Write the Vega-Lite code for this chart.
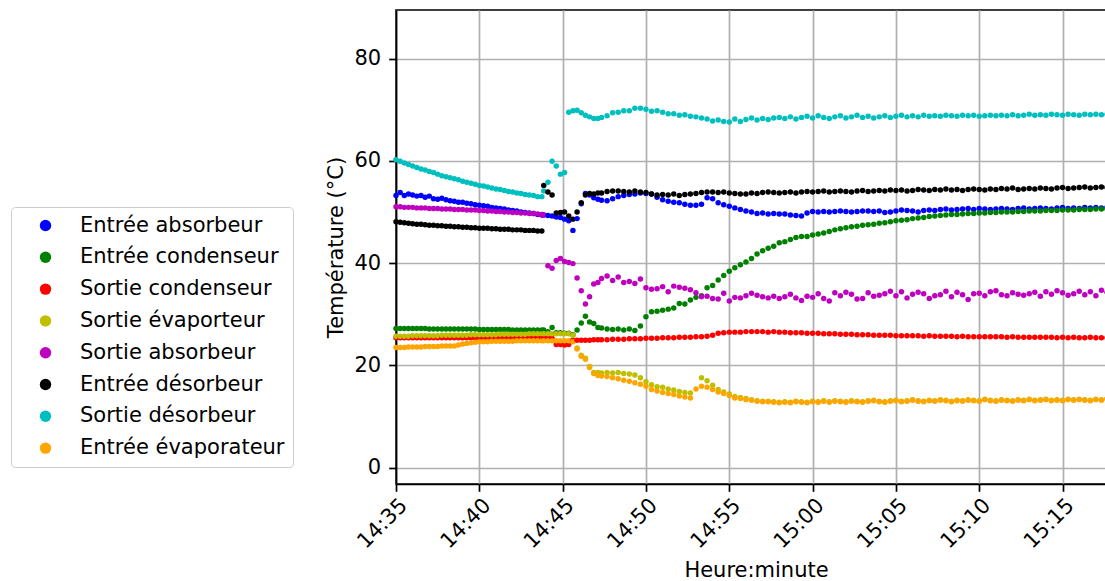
{
"$schema": "https://vega.github.io/schema/vega-lite/v6.json",
"width": 711, "height": 474,
"padding": {"left": 10, "top": 10, "right": 0, "bottom": 0},
"config": {"view": {"stroke": "black", "strokeWidth": 1.7}, "font": "DejaVu Sans"},
"data": {"values": [
{"t":"2020-01-01T14:35:00","ea":53.2,"ec":27.2,"sc":25.4,"se":25.7,"sa":51.0,"ed":48.1,"sd":60.2,"ee":23.5},
{"t":"2020-01-01T14:35:15","ea":53.8,"ec":27.2,"sc":25.4,"se":25.7,"sa":51.0,"ed":48.0,"sd":59.9,"ee":23.5},
{"t":"2020-01-01T14:35:30","ea":53.2,"ec":27.2,"sc":25.4,"se":25.7,"sa":50.9,"ed":47.9,"sd":59.6,"ee":23.5},
{"t":"2020-01-01T14:35:45","ea":53.5,"ec":27.2,"sc":25.4,"se":25.7,"sa":50.9,"ed":47.8,"sd":59.3,"ee":23.6},
{"t":"2020-01-01T14:36:00","ea":53.3,"ec":27.2,"sc":25.4,"se":25.8,"sa":50.9,"ed":47.7,"sd":59.0,"ee":23.6},
{"t":"2020-01-01T14:36:15","ea":53.1,"ec":27.2,"sc":25.4,"se":25.8,"sa":50.8,"ed":47.6,"sd":58.7,"ee":23.6},
{"t":"2020-01-01T14:36:30","ea":53.2,"ec":27.2,"sc":25.4,"se":25.8,"sa":50.8,"ed":47.6,"sd":58.4,"ee":23.6},
{"t":"2020-01-01T14:36:45","ea":52.9,"ec":27.2,"sc":25.4,"se":25.8,"sa":50.8,"ed":47.5,"sd":58.2,"ee":23.7},
{"t":"2020-01-01T14:37:00","ea":53.1,"ec":27.1,"sc":25.4,"se":25.8,"sa":50.7,"ed":47.4,"sd":57.9,"ee":23.7},
{"t":"2020-01-01T14:37:15","ea":52.6,"ec":27.1,"sc":25.4,"se":25.8,"sa":50.7,"ed":47.4,"sd":57.7,"ee":23.7},
{"t":"2020-01-01T14:37:30","ea":52.5,"ec":27.1,"sc":25.4,"se":25.8,"sa":50.7,"ed":47.3,"sd":57.4,"ee":23.7},
{"t":"2020-01-01T14:37:45","ea":52.7,"ec":27.1,"sc":25.4,"se":25.9,"sa":50.6,"ed":47.3,"sd":57.1,"ee":23.8},
{"t":"2020-01-01T14:38:00","ea":52.4,"ec":27.1,"sc":25.4,"se":25.9,"sa":50.6,"ed":47.2,"sd":56.9,"ee":23.8},
{"t":"2020-01-01T14:38:15","ea":52.2,"ec":27.1,"sc":25.4,"se":25.9,"sa":50.6,"ed":47.2,"sd":56.7,"ee":23.8},
{"t":"2020-01-01T14:38:30","ea":52.1,"ec":27.1,"sc":25.4,"se":25.9,"sa":50.5,"ed":47.1,"sd":56.5,"ee":23.8},
{"t":"2020-01-01T14:38:45","ea":51.9,"ec":27.1,"sc":25.4,"se":25.9,"sa":50.5,"ed":47.1,"sd":56.3,"ee":24.0},
{"t":"2020-01-01T14:39:00","ea":51.9,"ec":27.1,"sc":25.4,"se":25.9,"sa":50.5,"ed":47.0,"sd":56.0,"ee":24.2},
{"t":"2020-01-01T14:39:15","ea":51.7,"ec":27.1,"sc":25.4,"se":25.9,"sa":50.4,"ed":47.0,"sd":55.8,"ee":24.3},
{"t":"2020-01-01T14:39:30","ea":51.6,"ec":27.1,"sc":25.4,"se":26.0,"sa":50.4,"ed":46.9,"sd":55.6,"ee":24.4},
{"t":"2020-01-01T14:39:45","ea":51.4,"ec":27.1,"sc":25.4,"se":26.0,"sa":50.4,"ed":46.9,"sd":55.4,"ee":24.5},
{"t":"2020-01-01T14:40:00","ea":51.3,"ec":27.0,"sc":25.4,"se":26.0,"sa":50.3,"ed":46.8,"sd":55.2,"ee":24.6},
{"t":"2020-01-01T14:40:15","ea":51.2,"ec":27.0,"sc":25.4,"se":26.0,"sa":50.3,"ed":46.8,"sd":55.1,"ee":24.6},
{"t":"2020-01-01T14:40:30","ea":51.1,"ec":27.0,"sc":25.4,"se":26.0,"sa":50.2,"ed":46.8,"sd":54.9,"ee":24.6},
{"t":"2020-01-01T14:40:45","ea":50.9,"ec":27.0,"sc":25.4,"se":26.0,"sa":50.2,"ed":46.7,"sd":54.7,"ee":24.7},
{"t":"2020-01-01T14:41:00","ea":50.8,"ec":27.0,"sc":25.4,"se":26.0,"sa":50.1,"ed":46.7,"sd":54.5,"ee":24.7},
{"t":"2020-01-01T14:41:15","ea":50.7,"ec":27.0,"sc":25.4,"se":26.1,"sa":50.1,"ed":46.6,"sd":54.4,"ee":24.7},
{"t":"2020-01-01T14:41:30","ea":50.6,"ec":27.0,"sc":25.4,"se":26.1,"sa":50.0,"ed":46.6,"sd":54.2,"ee":24.7},
{"t":"2020-01-01T14:41:45","ea":50.4,"ec":27.0,"sc":25.4,"se":26.1,"sa":50.0,"ed":46.6,"sd":54.0,"ee":24.7},
{"t":"2020-01-01T14:42:00","ea":50.3,"ec":26.9,"sc":25.4,"se":26.1,"sa":49.9,"ed":46.5,"sd":53.9,"ee":24.7},
{"t":"2020-01-01T14:42:15","ea":50.2,"ec":26.9,"sc":25.4,"se":26.1,"sa":49.9,"ed":46.5,"sd":53.7,"ee":24.8},
{"t":"2020-01-01T14:42:30","ea":50.0,"ec":26.9,"sc":25.4,"se":26.1,"sa":49.8,"ed":46.5,"sd":53.6,"ee":24.8},
{"t":"2020-01-01T14:42:45","ea":49.9,"ec":26.9,"sc":25.4,"se":26.1,"sa":49.8,"ed":46.4,"sd":53.4,"ee":24.8},
{"t":"2020-01-01T14:43:00","ea":49.8,"ec":26.9,"sc":25.4,"se":26.2,"sa":49.7,"ed":46.4,"sd":53.3,"ee":24.8},
{"t":"2020-01-01T14:43:15","ea":49.7,"ec":26.9,"sc":25.4,"se":26.2,"sa":49.7,"ed":46.4,"sd":53.2,"ee":24.8},
{"t":"2020-01-01T14:43:30","ea":49.5,"ec":26.9,"sc":25.4,"se":26.2,"sa":49.6,"ed":46.3,"sd":53.0,"ee":24.8},
{"t":"2020-01-01T14:43:45","ea":49.4,"ec":26.9,"sc":25.4,"se":26.2,"sa":49.5,"ed":46.3,"sd":53.0,"ee":24.8},
{"t":"2020-01-01T14:43:52","ea":49.4,"ec":26.9,"sc":25.4,"se":26.2,"sa":49.4,"ed":55.2,"sd":54.1,"ee":24.8},
{"t":"2020-01-01T14:44:07","ea":49.3,"ec":26.6,"sc":25.4,"se":26.2,"sa":39.5,"ed":53.9,"sd":55.8,"ee":24.8},
{"t":"2020-01-01T14:44:22","ea":49.2,"ec":27.4,"sc":25.3,"se":26.2,"sa":39.0,"ed":53.3,"sd":59.9,"ee":24.8},
{"t":"2020-01-01T14:44:37","ea":49.0,"ec":26.4,"sc":24.1,"se":26.2,"sa":40.5,"ed":49.8,"sd":59.0,"ee":24.8},
{"t":"2020-01-01T14:44:52","ea":48.9,"ec":26.4,"sc":24.1,"se":26.2,"sa":40.9,"ed":49.9,"sd":57.4,"ee":24.8},
{"t":"2020-01-01T14:45:07","ea":48.6,"ec":26.3,"sc":24.0,"se":26.2,"sa":40.3,"ed":50.0,"sd":57.7,"ee":24.8},
{"t":"2020-01-01T14:45:22","ea":48.3,"ec":26.3,"sc":24.1,"se":26.2,"sa":40.1,"ed":49.2,"sd":69.5,"ee":24.8},
{"t":"2020-01-01T14:45:37","ea":46.4,"ec":26.0,"sc":24.9,"se":25.9,"sa":39.9,"ed":48.6,"sd":69.8,"ee":24.6},
{"t":"2020-01-01T14:45:52","ea":48.7,"ec":26.9,"sc":24.9,"se":23.4,"sa":37.1,"ed":50.0,"sd":69.9,"ee":23.2},
{"t":"2020-01-01T14:46:07","ea":51.6,"ec":28.3,"sc":24.9,"se":22.0,"sa":34.6,"ed":51.8,"sd":69.4,"ee":21.8},
{"t":"2020-01-01T14:46:22","ea":53.6,"ec":29.6,"sc":24.9,"se":21.4,"sa":32.0,"ed":53.3,"sd":68.9,"ee":21.2},
{"t":"2020-01-01T14:46:37","ea":53.3,"ec":28.5,"sc":24.9,"se":19.8,"sa":33.4,"ed":53.6,"sd":68.6,"ee":19.6},
{"t":"2020-01-01T14:46:52","ea":52.8,"ec":28.2,"sc":25.0,"se":18.6,"sa":35.9,"ed":53.5,"sd":68.3,"ee":18.4},
{"t":"2020-01-01T14:47:07","ea":52.5,"ec":27.4,"sc":25.0,"se":18.6,"sa":36.2,"ed":53.7,"sd":68.3,"ee":18.0},
{"t":"2020-01-01T14:47:20","ea":52.3,"ec":27.3,"sc":25.0,"se":18.5,"sa":37.0,"ed":53.7,"sd":68.5,"ee":17.9},
{"t":"2020-01-01T14:47:40","ea":52.2,"ec":27.1,"sc":25.0,"se":18.6,"sa":37.5,"ed":54.0,"sd":68.8,"ee":17.8},
{"t":"2020-01-01T14:48:00","ea":52.6,"ec":27.0,"sc":25.1,"se":18.5,"sa":36.6,"ed":54.1,"sd":69.4,"ee":17.6},
{"t":"2020-01-01T14:48:20","ea":53.0,"ec":27.1,"sc":25.1,"se":18.6,"sa":37.3,"ed":54.1,"sd":69.5,"ee":17.4},
{"t":"2020-01-01T14:48:40","ea":53.2,"ec":26.9,"sc":25.1,"se":18.4,"sa":36.2,"ed":54.0,"sd":69.8,"ee":17.1},
{"t":"2020-01-01T14:49:00","ea":53.4,"ec":27.1,"sc":25.2,"se":18.3,"sa":36.4,"ed":53.9,"sd":69.8,"ee":16.9},
{"t":"2020-01-01T14:49:20","ea":53.5,"ec":26.8,"sc":25.2,"se":18.1,"sa":36.0,"ed":54.1,"sd":70.3,"ee":16.6},
{"t":"2020-01-01T14:49:40","ea":53.7,"ec":27.7,"sc":25.2,"se":17.6,"sa":36.9,"ed":53.9,"sd":70.3,"ee":16.3},
{"t":"2020-01-01T14:50:00","ea":53.6,"ec":29.5,"sc":25.3,"se":16.8,"sa":35.2,"ed":53.8,"sd":70.1,"ee":15.9},
{"t":"2020-01-01T14:50:20","ea":53.5,"ec":30.5,"sc":25.3,"se":16.2,"sa":34.9,"ed":53.5,"sd":69.7,"ee":15.3},
{"t":"2020-01-01T14:50:40","ea":52.9,"ec":30.6,"sc":25.3,"se":15.8,"sa":35.0,"ed":53.3,"sd":69.8,"ee":15.0},
{"t":"2020-01-01T14:51:00","ea":52.4,"ec":30.8,"sc":25.4,"se":15.7,"sa":35.4,"ed":53.4,"sd":69.5,"ee":14.7},
{"t":"2020-01-01T14:51:20","ea":52.1,"ec":31.0,"sc":25.4,"se":15.4,"sa":34.4,"ed":53.3,"sd":69.2,"ee":14.5},
{"t":"2020-01-01T14:51:40","ea":51.9,"ec":31.2,"sc":25.4,"se":15.2,"sa":35.5,"ed":53.5,"sd":69.2,"ee":14.3},
{"t":"2020-01-01T14:52:00","ea":51.8,"ec":32.1,"sc":25.5,"se":14.9,"sa":35.3,"ed":53.2,"sd":68.9,"ee":14.0},
{"t":"2020-01-01T14:52:20","ea":51.5,"ec":32.0,"sc":25.5,"se":14.7,"sa":35.1,"ed":53.4,"sd":69.0,"ee":13.8},
{"t":"2020-01-01T14:52:40","ea":51.3,"ec":32.8,"sc":25.5,"se":14.6,"sa":34.8,"ed":53.5,"sd":68.7,"ee":13.6},
{"t":"2020-01-01T14:53:00","ea":51.3,"ec":33.3,"sc":25.6,"se":null,"sa":34.2,"ed":53.6,"sd":68.6,"ee":15.4},
{"t":"2020-01-01T14:53:20","ea":51.5,"ec":33.6,"sc":25.6,"se":17.6,"sa":33.4,"ed":53.8,"sd":68.4,"ee":15.9},
{"t":"2020-01-01T14:53:40","ea":52.8,"ec":35.2,"sc":25.7,"se":17.0,"sa":33.5,"ed":53.9,"sd":68.2,"ee":15.7},
{"t":"2020-01-01T14:54:00","ea":52.6,"ec":35.6,"sc":25.9,"se":16.1,"sa":33.1,"ed":53.9,"sd":67.8,"ee":15.3},
{"t":"2020-01-01T14:54:20","ea":51.8,"ec":36.7,"sc":26.3,"se":15.3,"sa":33.0,"ed":53.8,"sd":68.0,"ee":14.8},
{"t":"2020-01-01T14:54:40","ea":51.4,"ec":37.6,"sc":26.4,"se":14.8,"sa":34.1,"ed":53.9,"sd":67.7,"ee":14.5},
{"t":"2020-01-01T14:55:00","ea":51.1,"ec":38.4,"sc":26.5,"se":14.4,"sa":32.6,"ed":53.7,"sd":67.6,"ee":14.1},
{"t":"2020-01-01T14:55:20","ea":50.8,"ec":39.1,"sc":26.5,"se":13.9,"sa":33.3,"ed":53.6,"sd":68.2,"ee":13.6},
{"t":"2020-01-01T14:55:40","ea":50.5,"ec":39.7,"sc":26.5,"se":13.7,"sa":33.2,"ed":53.5,"sd":67.7,"ee":13.5},
{"t":"2020-01-01T14:56:00","ea":50.2,"ec":40.2,"sc":26.6,"se":13.5,"sa":33.6,"ed":53.5,"sd":68.1,"ee":13.3},
{"t":"2020-01-01T14:56:20","ea":50.0,"ec":40.9,"sc":26.6,"se":13.3,"sa":34.1,"ed":53.7,"sd":68.4,"ee":13.2},
{"t":"2020-01-01T14:56:40","ea":49.7,"ec":41.8,"sc":26.6,"se":13.1,"sa":33.7,"ed":53.6,"sd":68.0,"ee":13.0},
{"t":"2020-01-01T14:57:00","ea":49.8,"ec":42.4,"sc":26.6,"se":13.0,"sa":33.4,"ed":53.8,"sd":68.3,"ee":12.9},
{"t":"2020-01-01T14:57:20","ea":49.6,"ec":42.9,"sc":26.5,"se":13.0,"sa":33.2,"ed":53.9,"sd":68.1,"ee":12.9},
{"t":"2020-01-01T14:57:40","ea":49.7,"ec":43.3,"sc":26.6,"se":12.9,"sa":33.5,"ed":53.8,"sd":68.4,"ee":12.8},
{"t":"2020-01-01T14:58:00","ea":49.6,"ec":44.0,"sc":26.5,"se":12.8,"sa":33.1,"ed":53.7,"sd":68.5,"ee":12.7},
{"t":"2020-01-01T14:58:20","ea":49.6,"ec":44.2,"sc":26.5,"se":12.9,"sa":33.4,"ed":53.8,"sd":68.3,"ee":12.8},
{"t":"2020-01-01T14:58:40","ea":49.4,"ec":44.6,"sc":26.4,"se":12.8,"sa":33.9,"ed":53.9,"sd":68.6,"ee":12.7},
{"t":"2020-01-01T14:59:00","ea":49.3,"ec":45.0,"sc":26.4,"se":13.0,"sa":33.2,"ed":53.7,"sd":68.2,"ee":12.9},
{"t":"2020-01-01T14:59:20","ea":49.2,"ec":45.2,"sc":26.4,"se":12.9,"sa":32.7,"ed":53.9,"sd":68.5,"ee":12.8},
{"t":"2020-01-01T14:59:40","ea":49.8,"ec":45.2,"sc":26.3,"se":12.8,"sa":33.5,"ed":54.0,"sd":68.7,"ee":12.7},
{"t":"2020-01-01T15:00:00","ea":50.1,"ec":45.5,"sc":26.3,"se":13.0,"sa":33.3,"ed":53.9,"sd":68.4,"ee":12.9},
{"t":"2020-01-01T15:00:20","ea":50.0,"ec":45.7,"sc":26.3,"se":12.9,"sa":34.0,"ed":54.0,"sd":68.8,"ee":12.8},
{"t":"2020-01-01T15:00:40","ea":50.1,"ec":45.9,"sc":26.2,"se":13.1,"sa":33.1,"ed":54.1,"sd":68.5,"ee":13.0},
{"t":"2020-01-01T15:01:00","ea":50.0,"ec":46.2,"sc":26.2,"se":12.9,"sa":32.6,"ed":53.9,"sd":68.3,"ee":12.8},
{"t":"2020-01-01T15:01:20","ea":50.1,"ec":46.5,"sc":26.2,"se":13.1,"sa":34.2,"ed":54.0,"sd":68.6,"ee":13.0},
{"t":"2020-01-01T15:01:40","ea":50.2,"ec":46.7,"sc":26.1,"se":13.0,"sa":33.6,"ed":54.1,"sd":68.8,"ee":12.9},
{"t":"2020-01-01T15:02:00","ea":50.1,"ec":46.9,"sc":26.1,"se":12.9,"sa":34.3,"ed":54.0,"sd":68.4,"ee":12.8},
{"t":"2020-01-01T15:02:20","ea":50.0,"ec":47.1,"sc":26.1,"se":13.1,"sa":33.9,"ed":53.9,"sd":68.6,"ee":13.0},
{"t":"2020-01-01T15:02:40","ea":50.1,"ec":47.2,"sc":26.0,"se":13.0,"sa":33.0,"ed":54.1,"sd":68.9,"ee":12.9},
{"t":"2020-01-01T15:03:00","ea":50.2,"ec":47.4,"sc":26.0,"se":12.9,"sa":33.1,"ed":54.2,"sd":68.5,"ee":12.8},
{"t":"2020-01-01T15:03:20","ea":50.2,"ec":47.5,"sc":26.0,"se":13.1,"sa":34.2,"ed":54.0,"sd":68.7,"ee":13.0},
{"t":"2020-01-01T15:03:40","ea":50.1,"ec":47.6,"sc":25.9,"se":13.2,"sa":33.5,"ed":54.1,"sd":68.4,"ee":13.1},
{"t":"2020-01-01T15:04:00","ea":50.2,"ec":47.8,"sc":25.9,"se":13.0,"sa":33.7,"ed":54.2,"sd":68.6,"ee":12.9},
{"t":"2020-01-01T15:04:20","ea":49.9,"ec":47.9,"sc":25.9,"se":12.9,"sa":34.0,"ed":54.1,"sd":68.8,"ee":12.8},
{"t":"2020-01-01T15:04:40","ea":50.0,"ec":48.1,"sc":25.9,"se":13.1,"sa":34.5,"ed":54.3,"sd":68.5,"ee":13.0},
{"t":"2020-01-01T15:05:00","ea":50.2,"ec":48.3,"sc":25.8,"se":13.2,"sa":33.6,"ed":54.2,"sd":68.7,"ee":13.1},
{"t":"2020-01-01T15:05:20","ea":50.4,"ec":48.4,"sc":25.8,"se":13.0,"sa":34.4,"ed":54.3,"sd":68.9,"ee":12.9},
{"t":"2020-01-01T15:05:40","ea":50.3,"ec":48.5,"sc":25.8,"se":13.1,"sa":33.2,"ed":54.1,"sd":68.6,"ee":13.0},
{"t":"2020-01-01T15:06:00","ea":50.2,"ec":48.7,"sc":25.8,"se":13.3,"sa":33.9,"ed":54.2,"sd":68.8,"ee":13.2},
{"t":"2020-01-01T15:06:20","ea":50.0,"ec":48.8,"sc":25.8,"se":13.1,"sa":34.3,"ed":54.4,"sd":68.6,"ee":13.0},
{"t":"2020-01-01T15:06:40","ea":50.3,"ec":48.9,"sc":25.7,"se":13.0,"sa":34.0,"ed":54.3,"sd":68.9,"ee":12.9},
{"t":"2020-01-01T15:07:00","ea":50.4,"ec":49.1,"sc":25.8,"se":13.2,"sa":33.1,"ed":54.2,"sd":68.7,"ee":13.1},
{"t":"2020-01-01T15:07:20","ea":50.3,"ec":49.2,"sc":25.7,"se":13.1,"sa":33.6,"ed":54.4,"sd":68.8,"ee":13.0},
{"t":"2020-01-01T15:07:40","ea":50.5,"ec":49.3,"sc":25.7,"se":13.3,"sa":33.8,"ed":54.3,"sd":68.7,"ee":13.2},
{"t":"2020-01-01T15:08:00","ea":50.6,"ec":49.4,"sc":25.7,"se":13.2,"sa":34.5,"ed":54.5,"sd":68.9,"ee":13.1},
{"t":"2020-01-01T15:08:20","ea":50.4,"ec":49.5,"sc":25.7,"se":13.0,"sa":33.4,"ed":54.3,"sd":68.8,"ee":12.9},
{"t":"2020-01-01T15:08:40","ea":50.5,"ec":49.5,"sc":25.6,"se":13.2,"sa":34.3,"ed":54.4,"sd":68.7,"ee":13.1},
{"t":"2020-01-01T15:09:00","ea":50.6,"ec":49.6,"sc":25.7,"se":13.1,"sa":33.8,"ed":54.2,"sd":68.9,"ee":13.0},
{"t":"2020-01-01T15:09:20","ea":50.7,"ec":49.7,"sc":25.6,"se":13.3,"sa":32.9,"ed":54.4,"sd":68.8,"ee":13.2},
{"t":"2020-01-01T15:09:40","ea":50.5,"ec":49.7,"sc":25.6,"se":13.2,"sa":34.0,"ed":54.5,"sd":68.9,"ee":13.1},
{"t":"2020-01-01T15:10:00","ea":50.7,"ec":49.8,"sc":25.6,"se":13.1,"sa":34.1,"ed":54.4,"sd":68.7,"ee":13.0},
{"t":"2020-01-01T15:10:20","ea":50.6,"ec":49.8,"sc":25.6,"se":13.4,"sa":33.6,"ed":54.3,"sd":68.8,"ee":13.3},
{"t":"2020-01-01T15:10:40","ea":50.5,"ec":49.9,"sc":25.6,"se":13.2,"sa":34.4,"ed":54.5,"sd":68.9,"ee":13.1},
{"t":"2020-01-01T15:11:00","ea":50.6,"ec":49.9,"sc":25.6,"se":13.1,"sa":34.6,"ed":54.4,"sd":68.8,"ee":13.0},
{"t":"2020-01-01T15:11:20","ea":50.7,"ec":50.0,"sc":25.6,"se":13.3,"sa":33.8,"ed":54.6,"sd":68.9,"ee":13.2},
{"t":"2020-01-01T15:11:40","ea":50.6,"ec":50.0,"sc":25.5,"se":13.2,"sa":33.6,"ed":54.5,"sd":68.8,"ee":13.1},
{"t":"2020-01-01T15:12:00","ea":50.5,"ec":50.0,"sc":25.6,"se":13.1,"sa":34.2,"ed":54.7,"sd":69.0,"ee":13.0},
{"t":"2020-01-01T15:12:20","ea":50.7,"ec":50.1,"sc":25.5,"se":13.3,"sa":33.9,"ed":54.4,"sd":68.8,"ee":13.2},
{"t":"2020-01-01T15:12:40","ea":50.8,"ec":50.1,"sc":25.5,"se":13.2,"sa":33.7,"ed":54.5,"sd":68.9,"ee":13.1},
{"t":"2020-01-01T15:13:00","ea":50.6,"ec":50.2,"sc":25.5,"se":13.4,"sa":34.0,"ed":54.6,"sd":69.1,"ee":13.3},
{"t":"2020-01-01T15:13:20","ea":50.7,"ec":50.2,"sc":25.5,"se":13.2,"sa":34.3,"ed":54.5,"sd":68.9,"ee":13.1},
{"t":"2020-01-01T15:13:40","ea":50.8,"ec":50.2,"sc":25.5,"se":13.3,"sa":33.5,"ed":54.7,"sd":69.0,"ee":13.2},
{"t":"2020-01-01T15:14:00","ea":50.7,"ec":50.3,"sc":25.5,"se":13.4,"sa":34.4,"ed":54.6,"sd":68.9,"ee":13.3},
{"t":"2020-01-01T15:14:20","ea":50.6,"ec":50.3,"sc":25.5,"se":13.2,"sa":33.9,"ed":54.5,"sd":69.1,"ee":13.1},
{"t":"2020-01-01T15:14:40","ea":50.8,"ec":50.3,"sc":25.4,"se":13.3,"sa":34.6,"ed":54.7,"sd":69.0,"ee":13.2},
{"t":"2020-01-01T15:15:00","ea":50.9,"ec":50.4,"sc":25.5,"se":13.2,"sa":34.2,"ed":54.8,"sd":68.9,"ee":13.1},
{"t":"2020-01-01T15:15:20","ea":50.7,"ec":50.4,"sc":25.4,"se":13.4,"sa":33.7,"ed":54.6,"sd":69.1,"ee":13.3},
{"t":"2020-01-01T15:15:40","ea":50.8,"ec":50.4,"sc":25.5,"se":13.3,"sa":34.0,"ed":54.7,"sd":69.0,"ee":13.2},
{"t":"2020-01-01T15:16:00","ea":50.7,"ec":50.5,"sc":25.4,"se":13.4,"sa":34.5,"ed":54.8,"sd":68.9,"ee":13.3},
{"t":"2020-01-01T15:16:20","ea":50.9,"ec":50.5,"sc":25.4,"se":13.3,"sa":33.8,"ed":54.9,"sd":69.1,"ee":13.2},
{"t":"2020-01-01T15:16:40","ea":50.8,"ec":50.5,"sc":25.5,"se":13.2,"sa":34.4,"ed":54.7,"sd":69.0,"ee":13.1},
{"t":"2020-01-01T15:17:00","ea":50.9,"ec":50.6,"sc":25.4,"se":13.4,"sa":33.6,"ed":54.8,"sd":69.1,"ee":13.3},
{"t":"2020-01-01T15:17:20","ea":50.8,"ec":50.6,"sc":25.4,"se":13.3,"sa":34.7,"ed":54.9,"sd":69.0,"ee":13.2},
{"t":"2020-01-01T15:17:40","ea":50.9,"ec":50.6,"sc":25.4,"se":13.5,"sa":34.3,"ed":54.8,"sd":69.1,"ee":13.4}
]},
"transform": [{"fold": ["ea","ec","sc","se","sa","ed","sd","ee"], "as": ["s","v"]}],
"mark": {"type": "point", "shape": "circle", "filled": true, "opacity": 1, "size": 30},
"encoding": {
  "x": {"field": "t", "type": "temporal", "scale": {"nice": false},
    "axis": {"title": "Heure:minute", "format": "%H:%M", "tickCount": 9,
      "labelAngle": -45, "labelAlign": "right", "labelBaseline": "top", "labelPadding": 3,
      "labelFontSize": 21, "labelColor": "black", "labelFlush": false, "labelOverlap": false,
      "titleFontSize": 21, "titleFontWeight": "normal", "titleColor": "black",
      "titleX": 360, "titleY": 92, "titleBaseline": "alphabetic",
      "domainColor": "black", "domainWidth": 1.7, "tickColor": "black", "tickWidth": 1.7, "tickSize": 7.3,
      "grid": true, "gridColor": "#b0b0b0", "gridWidth": 1.7, "gridOpacity": 1}},
  "y": {"field": "v", "type": "quantitative",
    "scale": {"domain": [-3.2, 89.5], "nice": false, "zero": false},
    "axis": {"title": "Température (°C)", "values": [0,20,40,60,80],
      "labelFontSize": 21, "labelColor": "black", "labelPadding": 8,
      "titleFontSize": 21, "titleFontWeight": "normal", "titleColor": "black",
      "titleX": -54, "titleBaseline": "alphabetic",
      "domainColor": "black", "domainWidth": 1.7, "tickColor": "black", "tickWidth": 1.7, "tickSize": 7.3,
      "grid": true, "gridColor": "#b0b0b0", "gridWidth": 1.7, "gridOpacity": 1}},
  "color": {"field": "s", "type": "nominal",
    "scale": {"domain": ["ea","ec","sc","se","sa","ed","sd","ee"], "range": ["#0000ff","#008000","#ff0000","#bfbf00","#bf00bf","#000000","#00bfbf","#ffa500"]},
    "legend": {"title": null, "orient": "none", "legendX": -385, "legendY": 197,
      "labelExpr": "datum.label == 'ea' ? 'Entrée absorbeur' : datum.label == 'ec' ? 'Entrée condenseur' : datum.label == 'sc' ? 'Sortie condenseur' : datum.label == 'se' ? 'Sortie évaporteur' : datum.label == 'sa' ? 'Sortie absorbeur' : datum.label == 'ed' ? 'Entrée désorbeur' : datum.label == 'sd' ? 'Sortie désorbeur' : 'Entrée évaporateur'",
      "labelFontSize": 21, "labelColor": "black", "labelLimit": 400,
      "symbolType": "circle", "symbolSize": 130, "symbolOpacity": 1,
      "fillColor": "white", "strokeColor": "#cccccc", "cornerRadius": 4,
      "padding": 8, "symbolOffset": 16, "labelOffset": 24, "rowPadding": 9.8}}
}
}
